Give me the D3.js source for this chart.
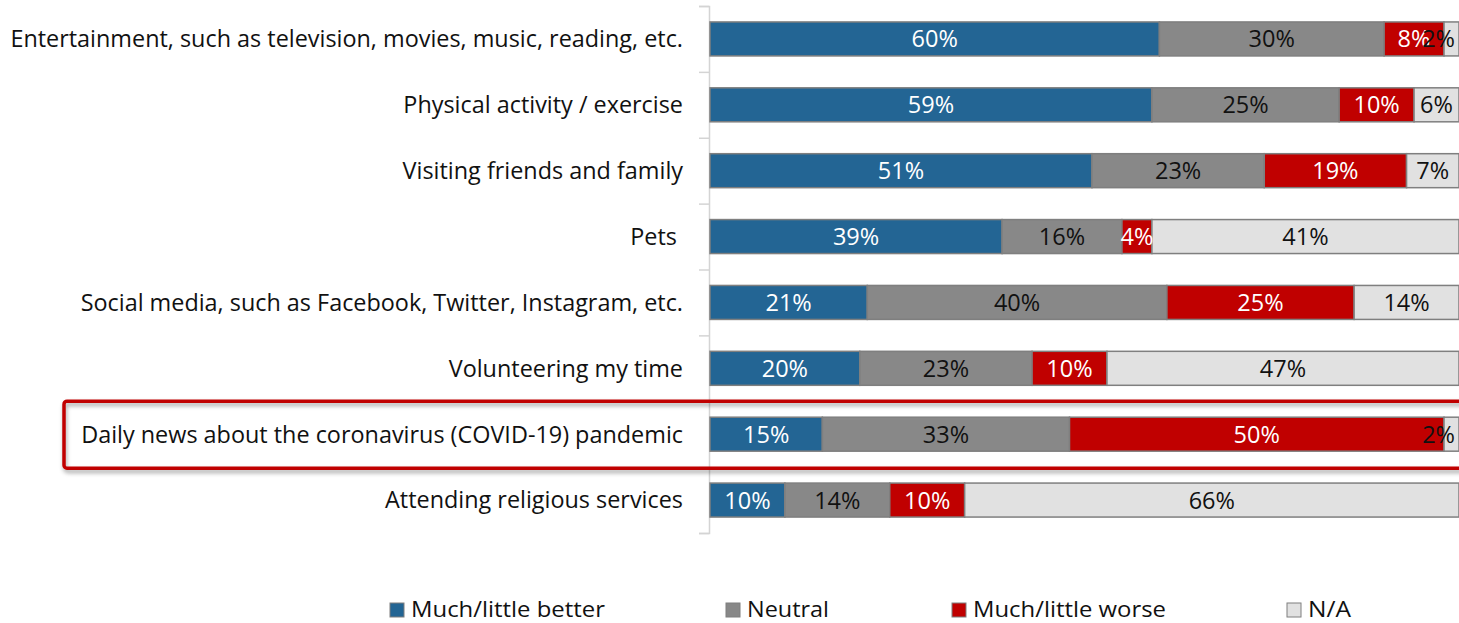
<!DOCTYPE html>
<html>
<head>
<meta charset="utf-8">
<script src="https://cdnjs.cloudflare.com/ajax/libs/d3/7.8.5/d3.min.js"></script>
<style>
  html, body { margin: 0; padding: 0; background: #fff; }
  svg { display: block; font-family: "Open Sans", Lato, sans-serif; }
</style>
</head>
<body>
<svg id="chart" width="1459" height="623"></svg>
<script>
// Activities and how they have affected well-being (percent of respondents)
const categories = [
  "Entertainment, such as television, movies, music, reading, etc.",
  "Physical activity / exercise",
  "Visiting friends and family",
  "Pets ",
  "Social media, such as Facebook, Twitter, Instagram, etc.",
  "Volunteering my time",
  "Daily news about the coronavirus (COVID-19) pandemic",
  "Attending religious services"
];
const better  = [60, 59, 51, 39, 21, 20, 15, 10];
const neutral = [30, 25, 23, 16, 40, 23, 33, 14];
const worse   = [8, 10, 19, 4, 25, 10, 50, 10];
const na      = [2, 6, 7, 41, 14, 47, 2, 66];
const seriesNames = ["Much/little better", "Neutral", "Much/little worse", "N/A"];
const highlighted = "Daily news about the coronavirus (COVID-19) pandemic";

const colors = ["#236594", "#888888", "#C00000", "#E1E1E1"];
const labelColors = ["#ffffff", "#111111", "#ffffff", "#111111"];
const keys = ["better", "neutral", "worse", "na"];

const rows = categories.map((c, i) => ({
  cat: c, better: better[i], neutral: neutral[i], worse: worse[i], na: na[i]
}));

const svg = d3.select("#chart");
const W = 1459;

const x = d3.scaleLinear().domain([0, 100]).range([710, 1459]);
const y = d3.scaleBand().domain(categories).range([6, 533])
  .paddingInner(0.484).paddingOuter(0.242);

// category axis: vertical line with ticks at band boundaries
const yEdges = d3.scaleLinear().domain([0, categories.length]).range([6, 533]);
const axis = svg.append("g").attr("transform", "translate(709,0)")
  .call(d3.axisLeft(yEdges).tickValues(d3.range(categories.length + 1))
    .tickSize(10).tickFormat(""));
axis.selectAll("path, line").attr("stroke", "#d4d4d4").attr("stroke-width", 1.5);

// category labels
svg.append("g").selectAll("text").data(categories).join("text")
  .attr("x", 683)
  .attr("y", d => y(d) + y.bandwidth() / 2)
  .attr("dy", "0.36em")
  .attr("text-anchor", "end")
  .style("white-space", "pre")
  .attr("font-size", 23.4)
  .attr("fill", "#111")
  .text(d => d);

// stacked bars
const stacked = d3.stack().keys(keys)(rows);
const layers = svg.append("g").selectAll("g").data(stacked).join("g")
  .attr("fill", (d, i) => colors[i]);

layers.selectAll("rect").data(d => d).join("rect")
  .attr("x", d => x(d[0]))
  .attr("y", d => y(d.data.cat))
  .attr("width", d => x(d[1]) - x(d[0]))
  .attr("height", y.bandwidth())
  .attr("stroke", "#7f7f7f")
  .attr("stroke-width", 1.5);

// value labels, kept inside the plot's right edge
const labelG = svg.append("g");
stacked.forEach((layer, li) => {
  layer.forEach(d => {
    const v = d.data[keys[li]];
    const t = labelG.append("text")
      .attr("y", y(d.data.cat) + y.bandwidth() / 2)
      .attr("dy", "0.36em")
      .attr("text-anchor", "middle")
      .attr("font-size", 23.5)
      .attr("fill", labelColors[li])
      .text(v + "%");
    const w = t.node().getComputedTextLength();
    let cx = (x(d[0]) + x(d[1])) / 2;
    if (cx + w / 2 > W - 4) cx = W - 4 - w / 2;
    t.attr("x", cx);
  });
});

// highlight frame around the news row
const defs = svg.append("defs");
const f = defs.append("filter").attr("id", "shadow")
  .attr("x", "-5%").attr("y", "-30%").attr("width", "110%").attr("height", "160%");
f.append("feDropShadow").attr("dx", 1).attr("dy", 3).attr("stdDeviation", 2)
  .attr("flood-color", "#000").attr("flood-opacity", 0.35);

const hy = y(highlighted) + y.bandwidth() / 2;
svg.append("rect")
  .attr("x", 64).attr("y", hy - 33)
  .attr("width", W - 64 + 20).attr("height", 67)
  .attr("rx", 3)
  .attr("fill", "none")
  .attr("stroke", "#C00000")
  .attr("stroke-width", 3.5)
  .attr("filter", "url(#shadow)");

// legend
const legendX = [390, 726, 952, 1287];
const legendW = [194, 82, 193, 43];
const lg = svg.append("g").selectAll("g").data(seriesNames).join("g")
  .attr("transform", (d, i) => `translate(${legendX[i]},609)`);
lg.append("rect")
  .attr("x", 0).attr("y", -6).attr("width", 14).attr("height", 14)
  .attr("fill", (d, i) => colors[i])
  .attr("stroke", "#7f7f7f").attr("stroke-width", 1);
lg.append("text")
  .attr("x", 21).attr("y", 0).attr("dy", "0.36em")
  .attr("font-size", 22)
  .attr("fill", "#111")
  .attr("textLength", (d, i) => legendW[i])
  .attr("lengthAdjust", "spacingAndGlyphs")
  .text(d => d);
</script>
</body>
</html>
